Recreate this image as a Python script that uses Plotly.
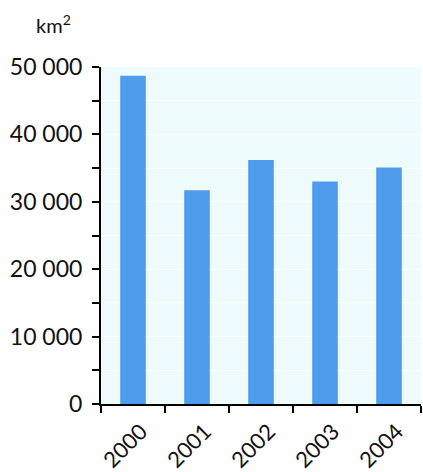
import plotly.graph_objects as go

years = ["2000", "2001", "2002", "2003", "2004"]
area_km2 = [48700, 31700, 36200, 33000, 35100]
y_ticks = [0, 10000, 20000, 30000, 40000, 50000]
y_tick_labels = ["0", "10 000", "20 000", "30 000", "40 000", "50 000"]

fig = go.Figure(go.Bar(
    x=years, y=area_km2, marker_color="#4f9bec", width=0.4,
    marker_line_width=0,
))

font = dict(family="Lato, 'Open Sans', sans-serif", size=23, color="#111111")

fig.update_layout(
    width=423, height=472,
    margin=dict(l=101, r=2, t=67, b=68),
    paper_bgcolor="white",
    plot_bgcolor="#eefcfd",
    font=font,
    showlegend=False,
    xaxis=dict(
        type="category",
        automargin=False,
        tickangle=-45,
        tickfont=dict(size=22),
        ticks="outside", ticklen=7, tickwidth=2, tickcolor="black",
        tickson="boundaries",
        showline=True, linecolor="black", linewidth=2,
        showgrid=False,
        range=[-0.5, 4.5],
        ticklabelstandoff=4,
        ticklabelshift=8,
    ),
    yaxis=dict(
        automargin=False,
        range=[0, 50000],
        tickvals=y_ticks, ticktext=y_tick_labels,
        ticks="outside", ticklen=7, tickwidth=2, tickcolor="black",
        showline=True, linecolor="black", linewidth=2,
        showgrid=True, gridcolor="white", gridwidth=1,
        zeroline=False,
        ticklabelstandoff=5,
        minor=dict(dtick=5000, ticks="outside", ticklen=7, tickwidth=2,
                   tickcolor="black", showgrid=True, gridcolor="white", gridwidth=1),
    ),
    annotations=[dict(
        text="km<sup>2</sup>", xref="paper", yref="paper",
        x=-0.15, y=1.0, xanchor="center", yanchor="bottom", yshift=28,
        showarrow=False, font=dict(family="Lato, 'Open Sans', sans-serif", size=20, color="#111111"),
    )],
)

fig.write_html("out.html", config={"displayModeBar": False},
               post_script="document.body.style.margin='0px';")
